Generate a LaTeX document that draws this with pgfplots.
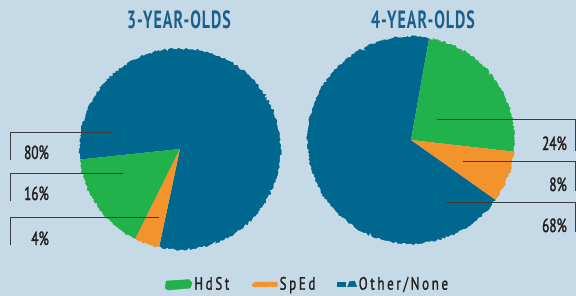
\documentclass[border=0pt]{standalone}
\usepackage{pgfplots}
\usepackage{pgfplotstable}
\pgfplotsset{compat=1.18}
\usetikzlibrary{decorations.pathmorphing}
\usepackage{fontspec}
\setmainfont{PT Sans}
\newfontfamily\titlefont{PT Sans}[FakeStretch=0.64, LetterSpace=4]
\newfontfamily\labfont{PT Sans}[FakeStretch=0.7, FakeBold=1.6]
\newfontfamily\legfont{PT Sans}[FakeStretch=0.72, LetterSpace=15, FakeBold=1.2]
\definecolor{bgc}{HTML}{C6D9E6}
\definecolor{blueS}{HTML}{00678F}
\definecolor{greenS}{HTML}{21B24B}
\definecolor{orangeS}{HTML}{F3932C}
\definecolor{titlec}{HTML}{1B5F8C}
\definecolor{textc}{HTML}{231F20}
\definecolor{linec}{HTML}{3C3C3C}

\pgfplotstableread{
cat value
HdSt 16
SpEd 4
Other 80
}\threeyr
\pgfplotstableread{
cat value
HdSt 24
SpEd 8
Other 68
}\fouryr

\begin{document}
\begin{tikzpicture}
\pgfmathsetseed{7}
\fill[bgc] (0,0) rectangle (576bp,-296bp);
\useasboundingbox (0,0) rectangle (576bp,-296bp);

% angles, left pie (counterclockwise from 186 deg)
\pgfplotstablegetelem{0}{value}\of\threeyr \let\LHd\pgfplotsretval
\pgfplotstablegetelem{1}{value}\of\threeyr \let\LSp\pgfplotsretval
\pgfplotstablegetelem{2}{value}\of\threeyr \let\LOt\pgfplotsretval
\pgfmathsetmacro\La{186}
\pgfmathsetmacro\Lb{\La+3.6*\LHd}
\pgfmathsetmacro\Lc{\Lb+3.6*\LSp}
\pgfmathsetmacro\Ld{\Lc+3.6*\LOt}
% right pie (clockwise from 79.9 deg)
\pgfplotstablegetelem{0}{value}\of\fouryr \let\RHd\pgfplotsretval
\pgfplotstablegetelem{1}{value}\of\fouryr \let\RSp\pgfplotsretval
\pgfplotstablegetelem{2}{value}\of\fouryr \let\ROt\pgfplotsretval
\pgfmathsetmacro\Ra{79.9}
\pgfmathsetmacro\Rb{\Ra-3.6*\RHd}
\pgfmathsetmacro\Rc{\Rb-3.6*\RSp}
\pgfmathsetmacro\Rd{\Rc-3.6*\ROt}

\tikzset{rough/.style={draw=bgc, line width=2.2bp, decorate,
  decoration={random steps, segment length=1.6bp, amplitude=1.1bp}}}

\begin{axis}[at={(180bp,-149bp)}, anchor=center, width=204bp, height=204bp,
  scale only axis, xmin=-1, xmax=1, ymin=-1, ymax=1, hide axis, clip=false,
  legend columns=3,
  legend style={at={(axis description cs:1.125,-0.162)}, anchor=center,
    draw=none, fill=none, font=\legfont\fontsize{18}{18}\selectfont, text=textc,
    /tikz/every even column/.append style={column sep=20bp}},
  ]
\fill[blueS] (axis cs:0,0) -- (axis cs:{cos(\Lc)},{sin(\Lc)}) arc[start angle=\Lc, end angle=\Ld, radius=102bp] -- cycle;
\fill[greenS] (axis cs:0,0) -- (axis cs:{cos(\La)},{sin(\La)}) arc[start angle=\La, end angle=\Lb, radius=102bp] -- cycle;
\fill[orangeS] (axis cs:0,0) -- (axis cs:{cos(\Lb)},{sin(\Lb)}) arc[start angle=\Lb, end angle=\Lc, radius=102bp] -- cycle;
\draw[rough] (axis cs:0,0) circle[radius=102bp];
\addlegendimage{legend image code/.code={\fill[greenS] (0bp,-4bp) -- (1bp,3bp) -- (24bp,4.5bp) -- (27bp,1bp) -- (25bp,-4bp) -- (3bp,-6bp) -- cycle;}}
\addlegendimage{legend image code/.code={\fill[orangeS] (0bp,-1bp) -- (4bp,2bp) -- (26bp,2bp) -- (26bp,-2.5bp) -- (3bp,-3bp) -- cycle;}}
\addlegendimage{legend image code/.code={\fill[blueS] (0bp,-2.5bp) rectangle (8bp,2bp); \fill[blueS] (10bp,-2.5bp) -- (12bp,2.5bp) -- (17bp,3bp) -- (19bp,-2.5bp) -- cycle;}}
\legend{HdSt,SpEd,Other/None}
\end{axis}

\begin{axis}[at={(411bp,-140bp)}, anchor=center, width=210bp, height=210bp,
  scale only axis, xmin=-1, xmax=1, ymin=-1, ymax=1, hide axis, clip=false]
\fill[blueS] (axis cs:0,0) -- (axis cs:{cos(\Rc)},{sin(\Rc)}) arc[start angle=\Rc, end angle=\Rd, radius=105bp] -- cycle;
\fill[greenS] (axis cs:0,0) -- (axis cs:{cos(\Ra)},{sin(\Ra)}) arc[start angle=\Ra, end angle=\Rb, radius=105bp] -- cycle;
\fill[orangeS] (axis cs:0,0) -- (axis cs:{cos(\Rb)},{sin(\Rb)}) arc[start angle=\Rb, end angle=\Rc, radius=105bp] -- cycle;
\draw[rough] (axis cs:0,0) circle[radius=105bp];
\end{axis}

% titles
\node[anchor=base, inner sep=0, text=titlec, font=\titlefont\bfseries\fontsize{25}{25}\selectfont] at (179bp,-28bp) {3-YEAR-OLDS};
\node[anchor=base, inner sep=0, text=titlec, font=\titlefont\bfseries\fontsize{25}{25}\selectfont] at (423bp,-28bp) {4-YEAR-OLDS};

% leader lines and labels
\begin{scope}[draw=linec, line width=0.8bp]
\draw (10bp,-160bp) -- (10bp,-132bp) -- (113bp,-132bp);
\draw (10bp,-201bp) -- (10bp,-173bp) -- (123bp,-173bp);
\draw (10bp,-245bp) -- (10bp,-217bp) -- (159bp,-217bp);
\draw (437bp,-119bp) -- (575bp,-119bp) -- (575bp,-151bp);
\draw (463bp,-161bp) -- (575bp,-161bp) -- (575bp,-191bp);
\draw (446bp,-202bp) -- (575bp,-202bp) -- (575bp,-232bp);
\end{scope}
\tikzset{lab/.style={anchor=base east, inner sep=0, text=textc, font=\labfont\fontsize{19}{19}\selectfont}}
\node[lab] at (49bp,-159bp) {80\%};
\node[lab] at (49bp,-200bp) {16\%};
\node[lab] at (49bp,-245bp) {4\%};
\node[lab] at (567bp,-150bp) {24\%};
\node[lab] at (567bp,-191bp) {8\%};
\node[lab] at (567bp,-232bp) {68\%};
\end{tikzpicture}
\end{document}
